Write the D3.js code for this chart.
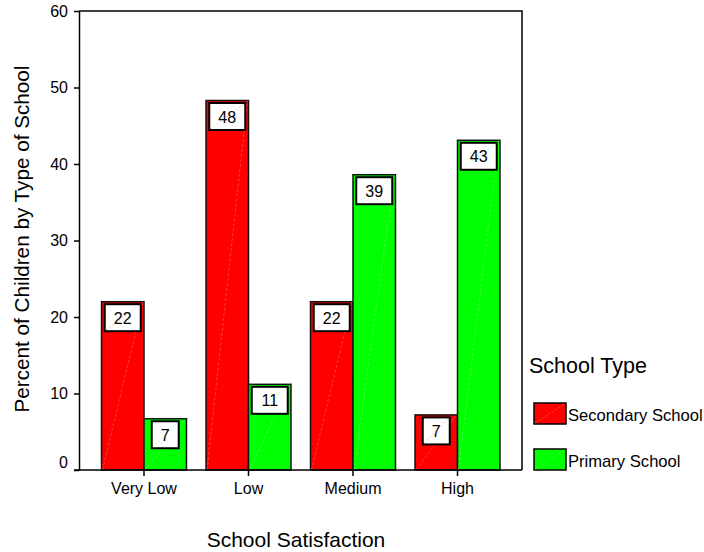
<!DOCTYPE html>
<html>
<head>
<meta charset="utf-8">
<script src="https://cdn.jsdelivr.net/npm/d3@7/dist/d3.min.js"></script>
<style>
  html, body { margin: 0; padding: 0; background: #fff; }
  svg { display: block; font-family: "Liberation Sans", Arial, sans-serif; }
</style>
</head>
<body>
<svg id="chart" width="704" height="552"></svg>
<script>
// School satisfaction by type of school (percent of children)
const categories = ["Very Low", "Low", "Medium", "High"];
const seriesNames = ["Secondary School", "Primary School"];
const secondaryValues = [22.0, 48.3, 22.0, 7.2];
const primaryValues = [6.7, 11.2, 38.6, 43.1];
const seriesColors = ["#ff0000", "#00ff00"];
const yTicks = [0, 10, 20, 30, 40, 50, 60];

const seriesValues = [secondaryValues, primaryValues];
const rows = categories.map((c, i) => ({
  category: c,
  bars: seriesNames.map((s, j) => ({ series: s, idx: j, value: seriesValues[j][i] }))
}));

const svg = d3.select("#chart");
const plot = { left: 79, right: 522, top: 11, bottom: 470 };

const x0 = d3.scaleBand()
  .domain(categories)
  .range([91.75, 509.75])
  .paddingInner(0.187)
  .paddingOuter(0.0935);
const x1 = d3.scaleBand()
  .domain(seriesNames)
  .range([0, x0.bandwidth()]);
const y = d3.scaleLinear().domain([0, 60]).range([plot.bottom, plot.top]);
const color = d3.scaleOrdinal().domain(seriesNames).range(seriesColors);

// Frame lines on top and right
svg.append("path")
  .attr("d", `M${plot.left},${plot.top}H${plot.right}V${plot.bottom}`)
  .attr("fill", "none").attr("stroke", "#000").attr("stroke-width", 1.5);

// Bars
const groups = svg.append("g").selectAll("g").data(rows).join("g")
  .attr("transform", d => `translate(${x0(d.category)},0)`);

const bar = groups.selectAll("g.bar").data(d => d.bars).join("g").attr("class", "bar");

bar.append("rect")
  .attr("x", d => x1(d.series))
  .attr("y", d => y(d.value))
  .attr("width", x1.bandwidth())
  .attr("height", d => y(0) - y(d.value))
  .attr("fill", d => color(d.series))
  .attr("stroke", "#111").attr("stroke-width", 1.5);

// faint diagonal sheen across each bar
bar.append("line")
  .attr("x1", d => x1(d.series) + 1)
  .attr("y1", y(0))
  .attr("x2", d => x1(d.series) + x1.bandwidth() - 1)
  .attr("y2", d => y(d.value))
  .attr("stroke", "#fff").attr("stroke-opacity", 0.3).attr("stroke-width", 0.8)
  .attr("stroke-dasharray", "3,2");

// Value label boxes
const fmt = d3.format(".0f");
bar.each(function(d) {
  const g = d3.select(this);
  const label = fmt(d.value);
  const w = label.length > 1 ? 36 : 27;
  const h = 27;
  const cx = x1(d.series) + x1.bandwidth() / 2;
  const top = y(d.value) + 2.5;
  g.append("rect")
    .attr("x", cx - w / 2).attr("y", top)
    .attr("width", w).attr("height", h)
    .attr("fill", "#fff").attr("stroke", "#000").attr("stroke-width", 2);
  g.append("line")
    .attr("x1", cx - w / 2 + 1).attr("y1", top + h - 1)
    .attr("x2", cx + w / 2 - 1).attr("y2", top + 1)
    .attr("stroke", color(d.series)).attr("stroke-opacity", 0.35)
    .attr("stroke-width", 0.8).attr("stroke-dasharray", "2,2");
  g.append("text")
    .attr("x", cx).attr("y", top + h / 2 + 6)
    .attr("text-anchor", "middle")
    .attr("font-size", 16).attr("fill", "#000")
    .text(label);
});

// Axes
const yAxis = svg.append("g")
  .attr("transform", `translate(${plot.left},0)`)
  .call(d3.axisLeft(y).tickValues(yTicks).tickSize(5).tickSizeOuter(0).tickPadding(6));
yAxis.selectAll("text").attr("font-size", 16).attr("font-family", "Liberation Sans, Arial, sans-serif").attr("fill", "#000");
yAxis.selectAll("text").filter(d => d === 0).attr("dy", "-0.18em");

const xAxis = svg.append("g")
  .attr("transform", `translate(0,${plot.bottom})`)
  .call(d3.axisBottom(x0).tickSize(6).tickSizeOuter(0).tickPadding(7));
xAxis.selectAll("text").attr("font-size", 16).attr("font-family", "Liberation Sans, Arial, sans-serif").attr("fill", "#000");

[yAxis, xAxis].forEach(a => {
  a.select(".domain").attr("stroke", "#000").attr("stroke-width", 1.5);
  a.selectAll(".tick line").attr("stroke", "#000").attr("stroke-width", 1.5);
});
// extend the bottom axis line left to meet the zero tick
xAxis.select(".domain").attr("d", `M${plot.left - 5},0H${plot.right}`);

// Axis titles
svg.append("text")
  .attr("x", 296).attr("y", 547)
  .attr("text-anchor", "middle").attr("font-size", 21)
  .text("School Satisfaction");
svg.append("text")
  .attr("transform", `translate(29,239) rotate(-90)`)
  .attr("text-anchor", "middle").attr("font-size", 20.7)
  .text("Percent of Children by Type of School");

// Legend
const legend = svg.append("g");
legend.append("text")
  .attr("x", 529).attr("y", 373)
  .attr("font-size", 21.5)
  .text("School Type");
const item = legend.selectAll("g.item").data(seriesNames).join("g")
  .attr("class", "item")
  .attr("transform", (d, i) => `translate(534,${403 + i * 46})`);
item.append("rect")
  .attr("width", 32).attr("height", 21)
  .attr("fill", d => color(d))
  .attr("stroke", "#000").attr("stroke-width", 1.5);
item.append("line")
  .attr("x1", 1).attr("y1", 20).attr("x2", 31).attr("y2", 1)
  .attr("stroke", "#fff").attr("stroke-opacity", 0.35).attr("stroke-width", 0.8)
  .attr("stroke-dasharray", "2,2");
item.append("text")
  .attr("x", 34).attr("y", 18)
  .attr("font-size", 16.6)
  .text(d => d);
</script>
</body>
</html>
